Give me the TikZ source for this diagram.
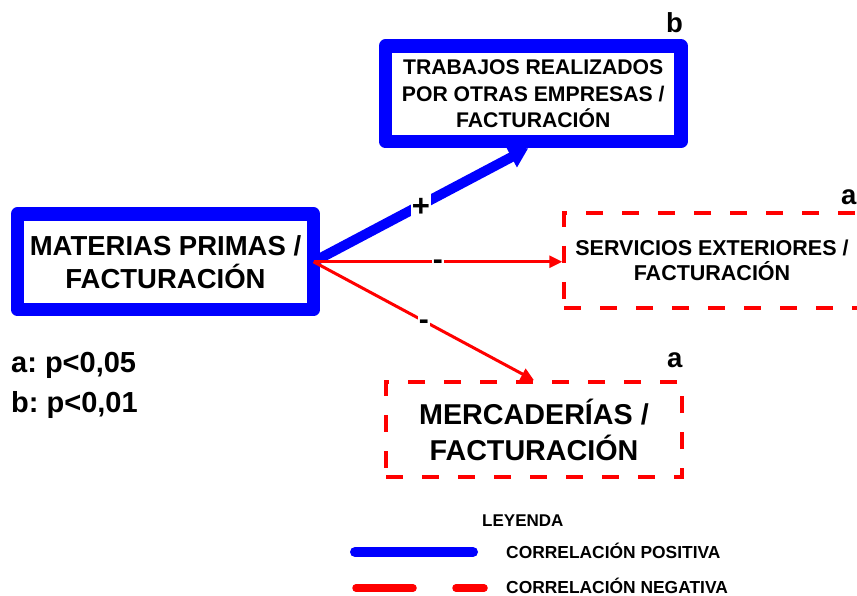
\documentclass[tikz,border=0pt]{standalone}
\usepackage{fontspec}
\setmainfont{Liberation Sans}
\frenchspacing
\usetikzlibrary{arrows.meta,calc}
\definecolor{pblue}{RGB}{0,0,255}
\definecolor{nred}{RGB}{255,0,0}
\begin{document}
\begin{tikzpicture}[x=1pt,y=-1pt,
  posbox/.style={draw=pblue, line width=13.5pt, line join=round, minimum width=295.5pt, minimum height=95.5pt, align=center, inner sep=0pt},
  negbox/.style={draw=nred, line width=3.5pt, dash pattern=on 17pt off 19pt, minimum width=296pt, minimum height=95pt, align=center, inner sep=0pt},
  posarrow/.style={draw=pblue, line width=10pt, -{Triangle[length=19pt,width=22pt]}},
  negarrow/.style={draw=nred, line width=3pt, -{Triangle[length=13pt,width=12pt]}},
  plussign/.style={fill=white, inner sep=1pt, text=black, font=\fontsize{31}{31}\selectfont\bfseries, text height=24pt, text depth=0pt},
  minussign/.style={fill=white, inner sep=1pt, text=black, font=\fontsize{30}{30}\selectfont\bfseries, text height=23pt, text depth=7pt},
  sig/.style={font=\fontsize{27.5}{30}\selectfont\bfseries, anchor=base west, inner sep=0pt},
  legtext/.style={font=\fontsize{17.4}{20}\selectfont\bfseries, anchor=base west, inner sep=0pt},
]
\useasboundingbox (0,0) rectangle (857,596);

% boxes
\node[posbox, outer sep=0pt, minimum width=296pt, font=\fontsize{27.5}{33}\selectfont\bfseries] (mp) at (165.5,261.75) {MATERIAS PRIMAS /\\FACTURACIÓN};
\node[posbox, font=\fontsize{21.2}{26.4}\selectfont\bfseries] (trab) at (533.25,93.75) {TRABAJOS REALIZADOS\\POR OTRAS EMPRESAS /\\FACTURACIÓN};
\node[negbox, font=\fontsize{21.5}{24.5}\selectfont\bfseries] (serv) at (712,260.5) {SERVICIOS EXTERIORES /\\FACTURACIÓN};
\node[negbox, font=\fontsize{28.7}{36}\selectfont\bfseries] (merc) at (534,429.5) {MERCADERÍAS /\\FACTURACIÓN};

% significance marks
\node[sig] (sb) at (666,33) {b};
\node[sig] (sa1) at (841,205) {a};
\node[sig] (sa2) at (667,367) {a};

% connectors
\draw[posarrow] (mp.east) -- node[plussign] (plus) {+} ([xshift=-5pt]trab.south);
\draw[negarrow] (mp.east) -- node[minussign] (m1) {-} (mp.east -| serv.west);
\draw[negarrow] (mp.east) -- node[minussign] (m2) {-} (merc.north);

% p-values
\node[font=\fontsize{29}{30}\selectfont\bfseries, anchor=base west, inner sep=0pt] (pa) at (11,372) {a: p<0,05};
\node[font=\fontsize{29}{30}\selectfont\bfseries, anchor=base west, inner sep=0pt] (pb) at (11,412) {b: p<0,01};

% legend
\node[font=\fontsize{17}{20}\selectfont\bfseries, anchor=base west, inner sep=0pt] (ley) at (482,526) {LEYENDA};
\coordinate (lp1) at (355,552);
\coordinate (lp2) at (473,552);
\draw[pblue, line width=10pt, line cap=round] (lp1) -- (lp2);
\node[legtext] (lpos) at (506,558) {CORRELACIÓN POSITIVA};
\coordinate (ln1) at (356,588);
\coordinate (ln2) at (413,588);
\coordinate (ln3) at (456,588);
\coordinate (ln4) at (484,588);
\draw[nred, line width=7.5pt, line cap=round] (ln1) -- (ln2);
\draw[nred, line width=7.5pt, line cap=round] (ln3) -- (ln4);
\node[legtext] (lneg) at (506,593) {CORRELACIÓN NEGATIVA};
\end{tikzpicture}
\end{document}
